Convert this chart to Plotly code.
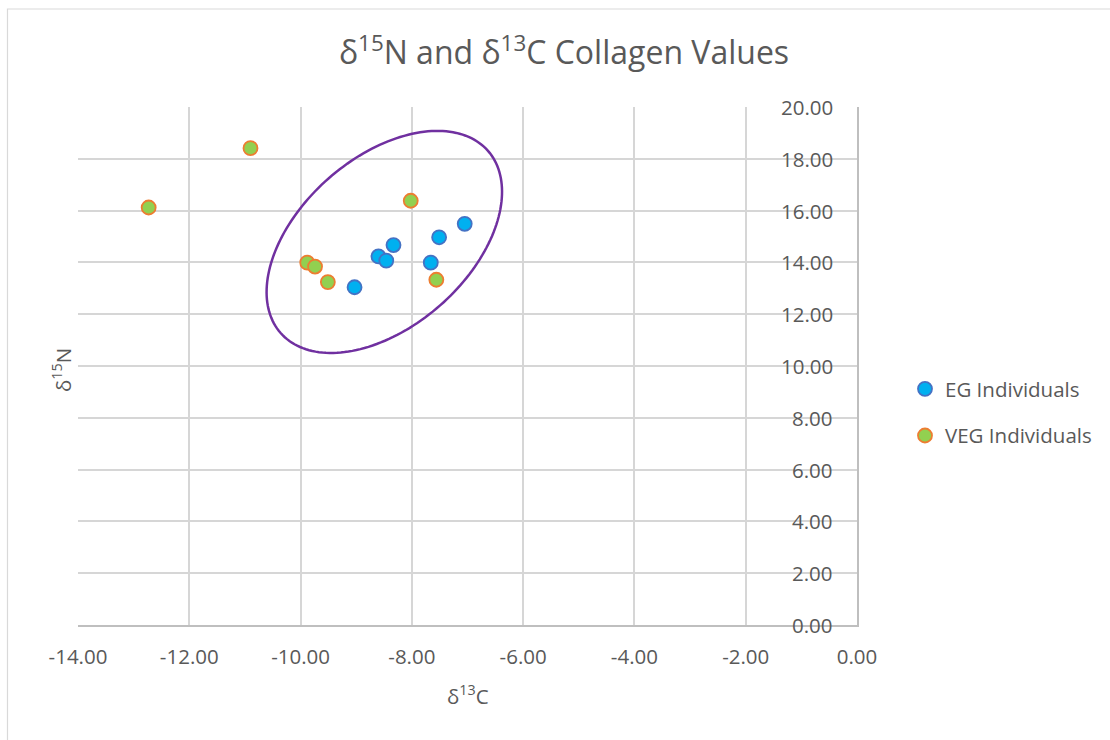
import numpy as np
import plotly.graph_objects as go

# ---- data ----
eg_x = [-9.03, -8.60, -8.46, -8.33, -7.66, -7.51, -7.05]
eg_y = [13.04, 14.23, 14.07, 14.67, 13.99, 14.97, 15.49]
veg_x = [-12.73, -10.90, -9.88, -9.74, -9.51, -8.02, -7.56]
veg_y = [16.12, 18.41, 13.99, 13.84, 13.24, 16.38, 13.33]
x_ticks = [-14, -12, -10, -8, -6, -4, -2, 0]
y_ticks = [0, 2, 4, 6, 8, 10, 12, 14, 16, 18, 20]

W, H = 1110, 740
ML, MR, MT, MB = 78, 253, 107, 115
pw, ph = W - ML - MR, H - MT - MB
xr, yr = (-14, 0), (0, 20)
pxu_x = pw / (xr[1] - xr[0])
pxu_y = ph / (yr[1] - yr[0])

FONT = "Open Sans"
GREY = "#595959"
FS = 20.5

fig = go.Figure()
fig.add_trace(go.Scatter(
    x=eg_x, y=eg_y, mode="markers", name="EG Individuals", legendgroup="a",
    marker=dict(size=14, color="#00b0f0", line=dict(color="#4472c4", width=1.8))))
fig.add_trace(go.Scatter(
    x=veg_x, y=veg_y, mode="markers", name="VEG Individuals", legendgroup="b",
    marker=dict(size=14, color="#92d050", line=dict(color="#ed7d31", width=1.8))))

# ellipse annotation (drawn shape), defined in pixel-space size & rotation
ecx, ecy = -8.495, 14.79
ea, eb, eth = 138, 84.5, np.deg2rad(41.3)
t = np.linspace(0, 2 * np.pi, 181)
u = ea * np.cos(t) * np.cos(eth) - eb * np.sin(t) * np.sin(eth)
v = ea * np.cos(t) * np.sin(eth) + eb * np.sin(t) * np.cos(eth)
ex = ecx + u / pxu_x
ey = ecy + v / pxu_y
path = "M " + " L ".join(f"{a:.4f},{b:.4f}" for a, b in zip(ex, ey)) + " Z"
fig.add_shape(type="path", path=path, xref="x", yref="y",
              line=dict(color="#7030a0", width=2.5))

# outer chart border
fig.add_shape(type="rect", xref="paper", yref="paper",
              x0=(7.5 - ML) / pw, x1=(W + 10 - ML) / pw,
              y0=(H - MB - (H + 10)) / ph, y1=(H - MB - 9) / ph,
              line=dict(color="#d9d9d9", width=1.2), layer="below")

annotations = [
    dict(text="δ<sup>13</sup>C", xref="paper", yref="paper",
         x=0.5, y=(H - MB - 695) / ph, xanchor="center", yanchor="middle",
         showarrow=False, font=dict(size=FS, color=GREY)),
    dict(text="δ<sup>15</sup>N", xref="paper", yref="paper",
         x=(62 - ML) / pw, y=(H - MB - 370) / ph, xanchor="center",
         yanchor="middle", textangle=-90, showarrow=False,
         font=dict(size=FS, color=GREY)),
]
# y tick labels drawn inside the plot, left of the axis at x=0
for yv in y_ticks:
    annotations.append(dict(text=f"{yv:.2f}", xref="paper", yref="y", x=1, y=yv,
                            xanchor="right", yanchor="middle", xshift=-22,
                            showarrow=False, font=dict(size=FS, color=GREY)))

fig.update_layout(
    width=W, height=H,
    margin=dict(l=ML, r=MR, t=MT, b=MB),
    paper_bgcolor="white", plot_bgcolor="white",
    font=dict(family=FONT, color=GREY, size=FS),
    title=dict(text="δ<sup>15</sup>N and δ<sup>13</sup>C Collagen Values",
               x=564 / W, xref="container", xanchor="center",
               y=1 - 53 / H, yref="container", yanchor="middle",
               font=dict(family=FONT, size=32, color=GREY)),
    xaxis=dict(range=list(xr), tickvals=x_ticks,
               ticktext=[f"{v:.2f}" for v in x_ticks],
               showgrid=True, gridcolor="#d6d6d6", gridwidth=1.5,
               zeroline=False, showline=True, linecolor="#bfbfbf", linewidth=1.5,
               ticks="", ticklabelstandoff=13, tickfont=dict(size=FS, color=GREY)),
    yaxis=dict(range=list(yr), tickvals=y_ticks, showticklabels=False,
               side="right",
               showgrid=True, gridcolor="#d6d6d6", gridwidth=1.5,
               zeroline=False, showline=True, linecolor="#bfbfbf", linewidth=1.5,
               ticks=""),
    legend=dict(x=(905 - ML) / pw, xanchor="left", y=(MT + ph - 394 + 25) / ph,
                yanchor="top", font=dict(size=FS, color=GREY),
                tracegroupgap=17, bgcolor="rgba(0,0,0,0)"),
    annotations=annotations,
)

fig.write_html("out.html")
